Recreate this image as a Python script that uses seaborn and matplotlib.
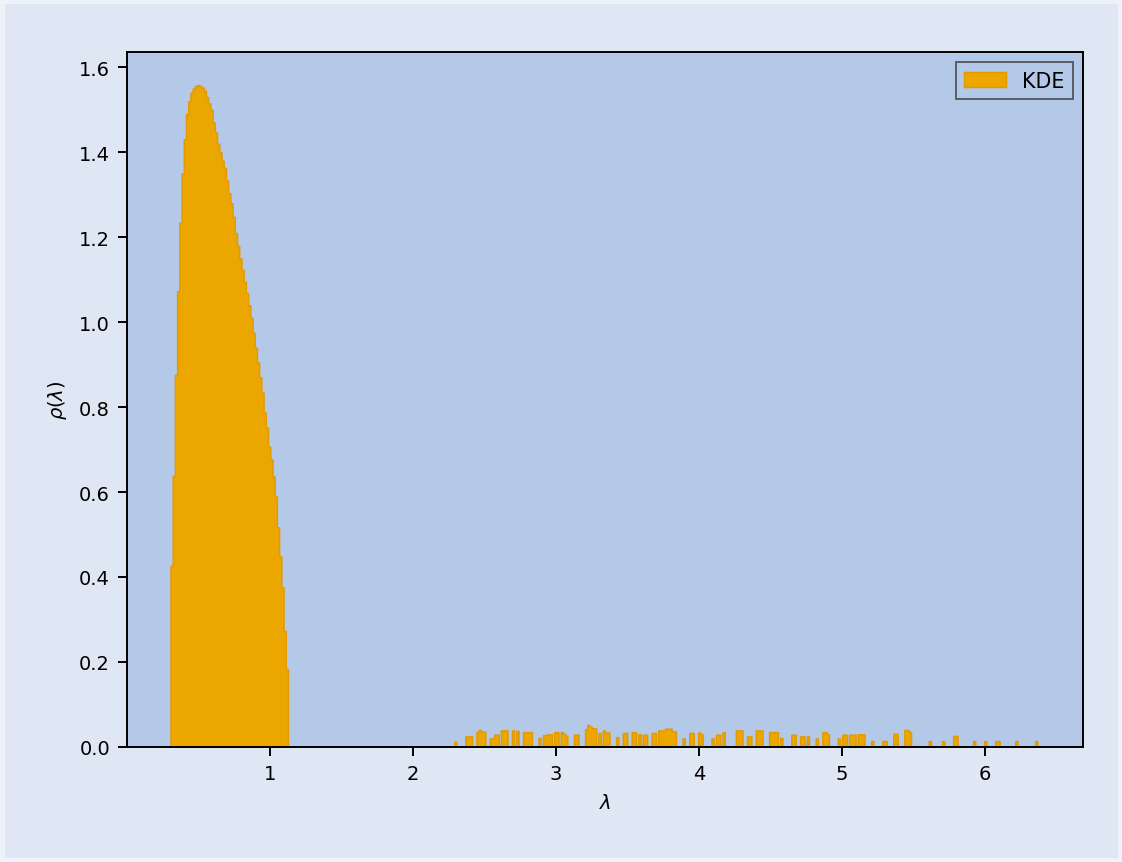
import numpy as np
import pandas as pd
import matplotlib
matplotlib.use("Agg")
import matplotlib.pyplot as plt
import seaborn as sns

# histogram grid (eigenvalue bins)
lam_min = 0.3046
bin_w = 0.0155
n_bins = 392

# bulk of the spectrum, one value per bin starting at lam_min
bulk_rho = [0.426, 0.638, 0.876, 1.073, 1.234, 1.35, 1.43, 1.49, 1.52, 1.54,
            1.55, 1.556, 1.558, 1.556, 1.552,
            1.545, 1.53, 1.515, 1.50, 1.47, 1.447, 1.42, 1.40, 1.38, 1.363,
            1.334, 1.304, 1.28, 1.248, 1.21, 1.18, 1.15, 1.123, 1.095, 1.069,
            1.04, 1.01, 0.975, 0.94, 0.905, 0.87, 0.834, 0.787, 0.752, 0.707,
            0.677, 0.637, 0.59, 0.517, 0.449, 0.376, 0.273, 0.183]

# outlier eigenvalues: start, end and density of each small bar
tail_lo = [2.281, 2.366, 2.443, 2.46, 2.48, 2.54, 2.568, 2.617, 2.688, 2.716,
           2.765, 2.80, 2.87, 2.91, 2.94, 2.99, 3.031, 3.05, 3.065, 3.128,
           3.198, 3.215, 3.23, 3.245, 3.297, 3.332, 3.35, 3.423, 3.472, 3.528,
           3.577, 3.612, 3.661, 3.717, 3.765, 3.81, 3.885, 3.928, 3.99, 4.008,
           4.081, 4.123, 4.158, 4.263, 4.34, 4.396, 4.487, 4.522, 4.571, 4.648,
           4.704, 4.746, 4.809, 4.858, 4.89, 4.977, 4.997, 5.04, 5.11, 5.195,
           5.286, 5.363, 5.44, 5.46, 5.601, 5.692, 5.783, 5.916, 5.993, 6.07,
           6.217, 6.35]
tail_hi = [2.30, 2.415, 2.46, 2.48, 2.498, 2.56, 2.603, 2.666, 2.709, 2.744,
           2.793, 2.828, 2.884, 2.935, 2.968, 3.017, 3.05, 3.065, 3.08, 3.157,
           3.215, 3.23, 3.245, 3.276, 3.318, 3.35, 3.367, 3.437, 3.50, 3.556,
           3.591, 3.633, 3.696, 3.765, 3.81, 3.843, 3.899, 3.963, 4.008, 4.025,
           4.102, 4.144, 4.186, 4.305, 4.361, 4.438, 4.515, 4.55, 4.585, 4.676,
           4.732, 4.767, 4.837, 4.89, 4.915, 4.99, 5.025, 5.096, 5.16, 5.216,
           5.307, 5.384, 5.46, 5.489, 5.622, 5.713, 5.811, 5.937, 6.007, 6.098,
           6.231, 6.371]
tail_rho = [0.012, 0.025, 0.035, 0.04, 0.036, 0.02, 0.029, 0.039, 0.039, 0.038,
            0.035, 0.035, 0.021, 0.028, 0.03, 0.035, 0.035, 0.031, 0.026, 0.029,
            0.042, 0.052, 0.048, 0.044, 0.033, 0.039, 0.034, 0.023, 0.033, 0.035,
            0.03, 0.029, 0.033, 0.039, 0.043, 0.037, 0.02, 0.033, 0.034, 0.03,
            0.02, 0.029, 0.035, 0.039, 0.025, 0.039, 0.035, 0.035, 0.021, 0.029,
            0.025, 0.025, 0.02, 0.035, 0.03, 0.02, 0.029, 0.029, 0.03, 0.014,
            0.014, 0.031, 0.04, 0.035, 0.014, 0.014, 0.026, 0.014, 0.014, 0.014,
            0.014, 0.014]

# build per-bin weights
edges = lam_min + bin_w * np.arange(n_bins + 1)
centers = edges[:-1] + bin_w / 2
weights = np.zeros(n_bins)
weights[:len(bulk_rho)] = bulk_rho
for lo, hi, h in zip(tail_lo, tail_hi, tail_rho):
    k0 = int(round((lo - lam_min) / bin_w))
    k1 = max(k0 + 1, int(round((hi - lam_min) / bin_w)))
    weights[k0:k1] = h
hist_df = pd.DataFrame({"lam": centers, "rho": weights})

sns.set_style("ticks", {"axes.facecolor": "#B4C8E8",
                        "figure.facecolor": "#E0E7F4",
                        "axes.edgecolor": "black",
                        "xtick.color": "black",
                        "ytick.color": "black",
                        "text.color": "black",
                        "axes.labelcolor": "black"})
plt.rcParams['font.family'] = ['DejaVu Sans']
plt.rcParams['font.size'] = 8

fig = plt.figure(figsize=(6.412, 4.931), dpi=175)
fig.patch.set_edgecolor("#EEF2F9")
fig.patch.set_linewidth(3)
ax = fig.add_axes([0.1132, 0.1333, 0.852, 0.8053])

sns.histplot(data=hist_df, x="lam", weights="rho", bins=edges.tolist(),
             element="step", fill=True, color="#EBA700", alpha=1,
             edgecolor="#E39A00", linewidth=0.6, label="KDE", ax=ax)

ax.set_xlabel(r"$\lambda$")
ax.set_ylabel(r"$\rho(\lambda)$")
leg = ax.legend(loc="upper right", fancybox=False, edgecolor="#444444",
                facecolor="none", fontsize=8.5)
leg.get_frame().set_linewidth(0.8)

fig.savefig("out.png", dpi=175, facecolor=fig.get_facecolor(),
            edgecolor=fig.patch.get_edgecolor())
